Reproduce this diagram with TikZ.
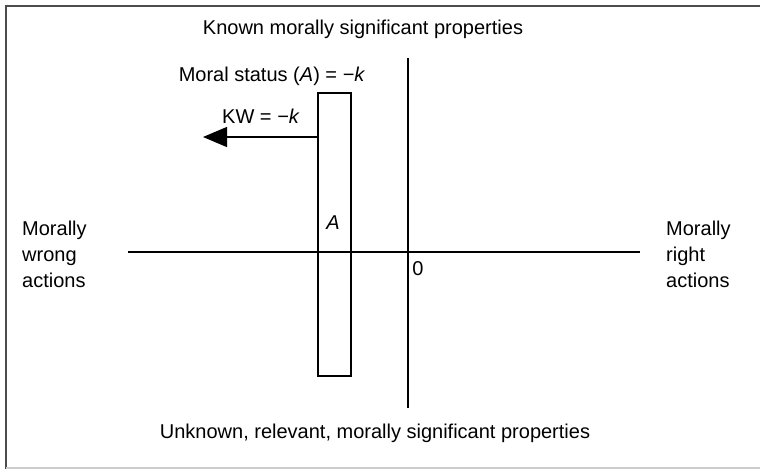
\documentclass[tikz,border=0pt]{standalone}
\usepackage{fontspec}
\setmainfont{Liberation Sans}
\usetikzlibrary{arrows.meta}
\begin{document}
\begin{tikzpicture}[x=1pt,y=-1pt,
  lbl/.style={font=\fontsize{20}{26}\selectfont, inner sep=0pt},
  axis/.style={line width=1.3pt},
  bar/.style={draw, line width=1.1pt},
  kwarrow/.style={line width=1.3pt, -{Triangle[length=24pt,width=20pt]}}]
\useasboundingbox (0,0) rectangle (760,469);
\fill[white] (0,0) rectangle (760,469);
\draw[line width=2pt, black!70] (6,469) -- (6,6) -- (760,6);
\draw[line width=1.5pt, black!20] (6,468) -- (760,468);
% axes
\coordinate (vt) at (408,58);
\coordinate (vb) at (408,408);
\coordinate (hl) at (128,252);
\coordinate (hr) at (640,252);
\draw[axis] (vt) -- (vb);
\draw[axis] (hl) -- (hr);
% bar
\node[bar, minimum width=33pt, minimum height=283pt, inner sep=0pt] (bar) at (334.5,234.5) {};
\coordinate (tip) at (203,137);
\coordinate (base) at (317,137);
\draw[kwarrow] (base) -- (tip);
% labels
\node[lbl, anchor=base] (top) at (363,34) {Known morally significant properties};
\node[lbl, anchor=base] (bot) at (375,438) {Unknown, relevant, morally significant properties};
\node[lbl, anchor=base] (ms) at (272,81) {Moral status (\textit{A}) = \textit{−k}};
\node[lbl, anchor=base] (kw) at (261,123) {KW = \textit{−k}};
\node[lbl, anchor=base] (A) at (333,229) {\textit{A}};
\node[lbl, anchor=base] (zero) at (418,275) {0};
\node[lbl, align=left, anchor=north west] (wrong) at (22,221) {Morally\\wrong\\actions};
\node[lbl, align=left, anchor=north west] (right) at (666,221) {Morally\\right\\actions};
\end{tikzpicture}
\end{document}
